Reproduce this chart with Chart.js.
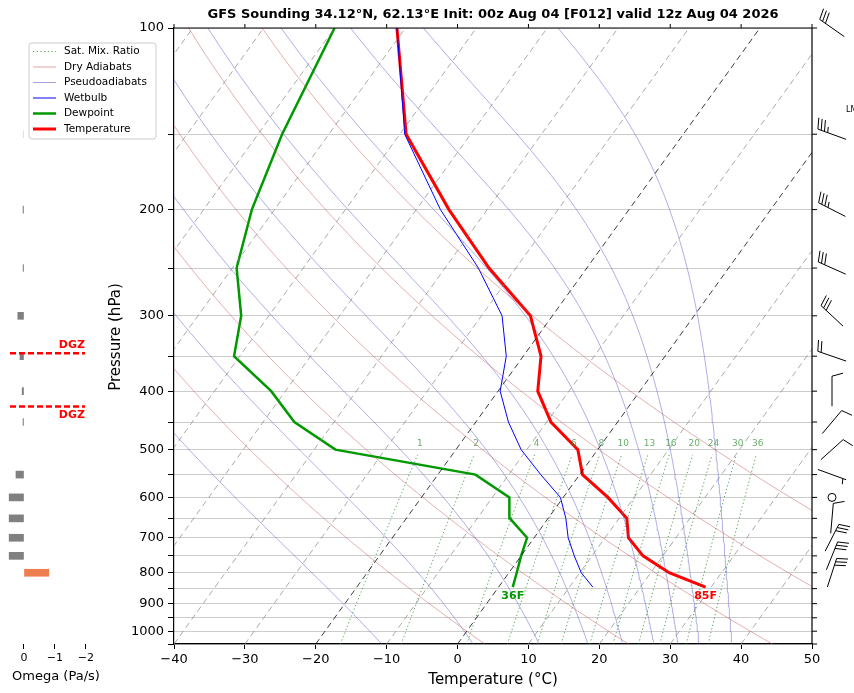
<!DOCTYPE html>
<html>
<head>
<meta charset="utf-8">
<script src="https://cdn.jsdelivr.net/npm/chart.js@4"></script>
<style>
  html, body { margin: 0; padding: 0; background: #fff; }
  #wrap { position: relative; width: 854px; height: 693px; }
  canvas { position: absolute; left: 0; top: 0; }
</style>
</head>
<body>
<div id="wrap">
  <canvas id="skew" width="854" height="693"></canvas>
  <canvas id="omega" width="170" height="693"></canvas>
</div>
<script>
// sounding
const levels = [845, 800, 750, 700, 650, 600, 550, 500, 450, 400, 350, 300, 250, 200, 150, 100];
const tempC = [29.2, 22.6, 17.2, 13.3, 11.1, 6.3, 0.4, -2.8, -9.4, -14.4, -17.5, -23.1, -33.8, -45.4, -59.1, -71.2];
const dewC = [2.0, 1.1, 0.0, -1.0, -5.4, -7.6, -14.7, -37.0, -45.6, -52.0, -60.8, -63.9, -69.4, -73.2, -76.6, -80.0];
const wetC = [13.3, 10.2, 7.5, 4.8, 2.5, -0.4, -5.5, -10.8, -15.4, -19.7, -22.4, -27.1, -35.3, -46.6, -59.3, -71.2];

const windP = [100, 150, 200, 250, 300, 350, 400, 450, 500, 550, 600, 650, 700, 750, 800];
const windDir = [305, 290, 297, 294, 313, 289, 360, 40, 48, 110, 0, 5, 27, 22, 18];
const windKt = [30, 35, 35, 30, 30, 20, 10, 10, 10, 5, 0, 10, 30, 30, 30];

const omegaP = [150, 200, 250, 300, 350, 400, 450, 550, 600, 650, 700, 750, 800];
const omegaV = [0.02, 0.03, 0.03, 0.2, 0.13, 0.06, 0.03, 0.26, 0.48, 0.48, 0.48, 0.48, -0.8];
const omegaCol = ['#ffee00', '#808080', '#808080', '#808080', '#808080', '#808080', '#808080',
                  '#808080', '#808080', '#808080', '#808080', '#808080', '#ee7d50'];

const dgzP = [346, 424];

// background lines
const isotherms = [-100, -90, -80, -70, -60, -50, -40, -30, -20, -10, 0, 10, 20, 30, 40, 50];
const dryTheta = [-40, -20, 0, 20, 40, 60, 80, 100, 120, 140, 160, 180, 200, 220, 240];
const moistStart = [-27.6, -10.7, 2.2, 11.5, 18.4, 23.3, 27.7, 31.1, 34.1, 38.7];
const mixRatios = [1, 2, 4, 6, 8, 10, 13, 16, 20, 24, 30, 36];

const pressTicks = [100, 150, 200, 250, 300, 350, 400, 450, 500, 550, 600, 650, 700, 750, 800, 850, 900, 950, 1000, 1050];

const K = 61.35; // skew, deg C per decade of pressure
const sx = (t, p) => t + K * Math.log10(1050 / p);

function es(tc) { return 6.112 * Math.exp(17.67 * tc / (tc + 243.5)); }
function thetaE(tc, p) {
  const e = es(tc);
  if (e > p * 0.5) return Infinity;
  const rs = 0.622 * e / (p - e);
  const tk = tc + 273.15;
  return tk * Math.pow(1000 / p, 0.2857) * Math.exp(2.5e6 * rs / (1004 * tk));
}
function moistLine(t0) {
  const target = thetaE(t0, 1050);
  const pts = [];
  for (let p = 1050; p >= 100; p -= 10) {
    let lo = -160, hi = 60;
    for (let i = 0; i < 50; i++) {
      const m = (lo + hi) / 2;
      if (thetaE(m, p) > target) hi = m; else lo = m;
    }
    pts.push({ x: sx((lo + hi) / 2, p), y: p });
  }
  return pts;
}
function dryLine(th) {
  const pts = [];
  for (let p = 1050; p >= 100; p -= 10) {
    const t = (th + 273.15) * Math.pow(p / 1000, 0.2857) - 273.15;
    pts.push({ x: sx(t, p), y: p });
  }
  return pts;
}
function tdFromMix(w, p) {
  const e = p * w / (622 + w);
  const l = Math.log(e / 6.112);
  return 243.5 * l / (17.67 - l);
}
function mixLine(w) {
  const pts = [];
  for (let p = 1050; p >= 510; p -= 10) pts.push({ x: sx(tdFromMix(w, p), p), y: p });
  return pts;
}
const prof = arr => arr.map((t, i) => ({ x: sx(t, levels[i]), y: levels[i] }));

const mixCol = 'rgba(30,130,30,0.85)';
const dryCol = 'rgba(200,80,80,0.65)';
const moistCol = 'rgba(80,80,200,0.65)';

const thin = { pointRadius: 0, fill: false, tension: 0 };
const datasets = [];
isotherms.forEach(t => datasets.push(Object.assign({
  data: [{ x: sx(t, 1050), y: 1050 }, { x: sx(t, 100), y: 100 }],
  borderColor: (t === 0 || t === -20) ? 'rgba(0,0,0,0.85)' : 'rgba(128,128,128,0.75)',
  borderWidth: 0.9, borderDash: [6, 4]
}, thin)));
dryTheta.forEach(th => datasets.push(Object.assign({
  data: dryLine(th), borderColor: dryCol, borderWidth: 0.7
}, thin)));
moistStart.forEach(t => datasets.push(Object.assign({
  data: moistLine(t), borderColor: moistCol, borderWidth: 0.7
}, thin)));
mixRatios.forEach(w => datasets.push(Object.assign({
  data: mixLine(w), borderColor: mixCol, borderWidth: 0.9, borderDash: [1.2, 2.5]
}, thin)));
datasets.push(Object.assign({ data: prof(wetC), borderColor: '#0000ff', borderWidth: 1 }, thin));
datasets.push(Object.assign({ data: prof(dewC), borderColor: '#009900', borderWidth: 2.5 }, thin));
datasets.push(Object.assign({ data: prof(tempC), borderColor: '#ff0000', borderWidth: 3 }, thin));

Chart.defaults.font.family = 'DejaVu Sans';
Chart.defaults.color = '#000';

function drawBarb(ctx, cx, cy, dir, kt) {
  ctx.save();
  ctx.strokeStyle = '#000';
  ctx.lineWidth = 1;
  if (kt < 2.5) {
    ctx.beginPath(); ctx.arc(cx, cy, 4, 0, Math.PI * 2); ctx.stroke();
    ctx.restore(); return;
  }
  const r = dir * Math.PI / 180, L = 30;
  const ux = Math.sin(r), uy = -Math.cos(r);
  const bx = -uy, by = ux;
  const tx = cx + ux * L / 2, ty = cy + uy * L / 2;
  ctx.beginPath();
  ctx.moveTo(cx - ux * L / 2, cy - uy * L / 2);
  ctx.lineTo(tx, ty);
  const n = Math.round(kt / 5);
  const full = Math.floor(n / 2), half = n % 2;
  let pos = 0;
  for (let i = 0; i < full; i++) {
    const px = tx - ux * pos, py = ty - uy * pos;
    ctx.moveTo(px, py);
    ctx.lineTo(px + bx * 11 + ux * 3, py + by * 11 + uy * 3);
    pos += 3.5;
  }
  if (half) {
    if (full === 0) pos = 3.5;
    const px = tx - ux * pos, py = ty - uy * pos;
    ctx.moveTo(px, py);
    ctx.lineTo(px + bx * 5.5 + ux * 1.5, py + by * 5.5 + uy * 1.5);
  }
  ctx.stroke();
  ctx.restore();
}

const decor = {
  id: 'decor',
  afterDraw(chart) {
    const ctx = chart.ctx, xs = chart.scales.x, ys = chart.scales.y;
    const a = chart.chartArea;
    ctx.save();
    ctx.strokeStyle = '#000';
    ctx.lineWidth = 1.2;
    ctx.beginPath();
    ctx.moveTo(a.left, a.top); ctx.lineTo(a.right, a.top);
    ctx.moveTo(a.right, a.top); ctx.lineTo(a.right, a.bottom);
    ctx.stroke();
    ctx.lineWidth = 1;
    ctx.beginPath();
    for (let t = -40; t <= 50; t += 10) {
      const x = xs.getPixelForValue(t);
      ctx.moveTo(x, a.top); ctx.lineTo(x, a.top - 4);
    }
    pressTicks.forEach(p => {
      const y = ys.getPixelForValue(p);
      ctx.moveTo(a.right, y); ctx.lineTo(a.right + 5, y);
    });
    ctx.stroke();

    // title and axis titles
    ctx.fillStyle = '#000';
    ctx.textAlign = 'center';
    ctx.textBaseline = 'middle';
    ctx.font = 'bold 13px DejaVu Sans';
    ctx.fillText('GFS Sounding 34.12\u00b0N, 62.13\u00b0E Init: 00z Aug 04 [F012] valid 12z Aug 04 2026', 493, 15);
    ctx.font = '15px DejaVu Sans';
    ctx.fillText('Temperature (\u00b0C)', (a.left + a.right) / 2, 680);
    ctx.save();
    ctx.translate(116, 337); ctx.rotate(-Math.PI / 2);
    ctx.fillText('Pressure (hPa)', 0, 0);
    ctx.restore();

    // mixing ratio labels
    ctx.font = '9px DejaVu Sans';
    ctx.fillStyle = 'rgba(40,140,40,0.7)';
    mixRatios.forEach(w => {
      ctx.fillText(String(w), xs.getPixelForValue(sx(tdFromMix(w, 500), 500)), ys.getPixelForValue(500) - 6);
    });

    // surface labels
    ctx.font = 'bold 11px DejaVu Sans';
    ctx.fillStyle = '#009900';
    ctx.fillText('36F', xs.getPixelForValue(sx(dewC[0], levels[0])), ys.getPixelForValue(levels[0]) + 9);
    ctx.fillStyle = '#ff0000';
    ctx.fillText('85F', xs.getPixelForValue(sx(tempC[0], levels[0])), ys.getPixelForValue(levels[0]) + 9);

    // wind barbs
    windP.forEach((p, i) => drawBarb(ctx, 832, ys.getPixelForValue(p), windDir[i], windKt[i]));
    ctx.font = '8px DejaVu Sans';
    ctx.fillStyle = '#000';
    ctx.textAlign = 'left';
    ctx.fillText('LM', 846, 110);
    ctx.restore();
  }
};

new Chart(document.getElementById('skew'), {
  type: 'line',
  data: { datasets },
  options: {
    responsive: false,
    animation: false,
    parsing: false,
    layout: { padding: { left: 0, right: 42, top: 28, bottom: 0 } },
    plugins: { legend: { display: false }, tooltip: { enabled: false }, title: { display: false } },
    scales: {
      x: {
        type: 'linear', min: -40, max: 50,
        ticks: { stepSize: 10, font: { size: 13 }, padding: 3, maxRotation: 0,
          callback: v => (v < 0 ? '\u2212' + Math.abs(v) : String(v)) },
        grid: { drawOnChartArea: false, tickLength: 5, tickColor: '#000' },
        border: { color: '#000', width: 1.2 },
        afterFit: s => { s.height = 49; }
      },
      y: {
        type: 'logarithmic', min: 100, max: 1050, reverse: true,
        afterBuildTicks: s => { s.ticks = pressTicks.map(v => ({ value: v })); },
        ticks: { font: { size: 13 }, padding: 4, autoSkip: false,
          callback: v => (v % 100 === 0 ? String(v) : '') },
        grid: { color: '#cccccc', lineWidth: 1, tickLength: 6, tickColor: '#000' },
        border: { color: '#000', width: 1.2 },
        afterFit: s => { s.width = 174; }
      }
    }
  },
  plugins: [decor]
});

// omega panel
const omegaDecor = {
  id: 'omegaDecor',
  afterDraw(chart) {
    const ctx = chart.ctx, ys = chart.scales.y;
    ctx.save();
    ctx.strokeStyle = '#ff0000';
    ctx.lineWidth = 2.5;
    ctx.setLineDash([6, 3]);
    const x0 = 10, x1 = 85;
    dgzP.forEach(p => {
      const y = ys.getPixelForValue(p);
      ctx.beginPath(); ctx.moveTo(x0, y); ctx.lineTo(x1, y); ctx.stroke();
    });
    ctx.setLineDash([]);
    ctx.fillStyle = '#ff0000';
    ctx.font = 'bold 11px DejaVu Sans';
    ctx.textAlign = 'right';
    ctx.textBaseline = 'middle';
    ctx.fillText('DGZ', x1, ys.getPixelForValue(dgzP[0]) - 8);
    ctx.fillText('DGZ', x1, ys.getPixelForValue(dgzP[1]) + 9);

    ctx.fillStyle = '#000';
    ctx.textAlign = 'center';
    ctx.font = '13px DejaVu Sans';
    ctx.fillText('Omega (Pa/s)', 56, 677);

    // legend
    const lx = 29, ly = 43, lw = 127, lh = 96;
    ctx.fillStyle = 'rgba(255,255,255,0.85)';
    ctx.strokeStyle = '#cccccc';
    ctx.lineWidth = 1;
    ctx.beginPath();
    ctx.roundRect(lx, ly, lw, lh, 3);
    ctx.fill(); ctx.stroke();
    const items = [
      ['Sat. Mix. Ratio', mixCol, 0.9, [1.2, 2.5]],
      ['Dry Adiabats', dryCol, 0.8, []],
      ['Pseudoadiabats', moistCol, 0.8, []],
      ['Wetbulb', '#0000ff', 1, []],
      ['Dewpoint', '#009900', 2.5, []],
      ['Temperature', '#ff0000', 3, []]
    ];
    ctx.textAlign = 'left';
    ctx.font = '10.5px DejaVu Sans';
    items.forEach((it, i) => {
      const y = 51.5 + i * 15.5;
      ctx.strokeStyle = it[1]; ctx.lineWidth = it[2]; ctx.setLineDash(it[3]);
      ctx.beginPath(); ctx.moveTo(33, y); ctx.lineTo(56, y); ctx.stroke();
      ctx.setLineDash([]);
      ctx.fillStyle = '#000';
      ctx.fillText(it[0], 64, y);
    });
    ctx.restore();
  }
};

new Chart(document.getElementById('omega'), {
  type: 'bar',
  data: {
    datasets: [{
      data: omegaP.map((p, i) => ({ x: omegaV[i], y: p })),
      backgroundColor: omegaCol,
      barThickness: 7,
      borderWidth: 0
    }]
  },
  options: {
    responsive: false,
    animation: false,
    indexAxis: 'y',
    layout: { padding: { left: 7, right: 78, top: 28, bottom: 0 } },
    plugins: { legend: { display: false }, tooltip: { enabled: false } },
    scales: {
      y: { type: 'logarithmic', min: 100, max: 1050, reverse: true, display: false },
      x: {
        type: 'linear', min: -2.2, max: 0.55, reverse: true,
        afterBuildTicks: s => { s.ticks = [0, -1, -2].map(v => ({ value: v })); },
        ticks: { font: { size: 11 }, padding: 3,
          callback: v => (v === 0 ? '0' : '\u2212' + Math.abs(v)) },
        grid: { drawOnChartArea: false, tickLength: 5, tickColor: '#000' },
        border: { display: false },
        afterFit: s => { s.height = 49; }
      }
    }
  },
  plugins: [omegaDecor]
});
</script>
</body>
</html>
